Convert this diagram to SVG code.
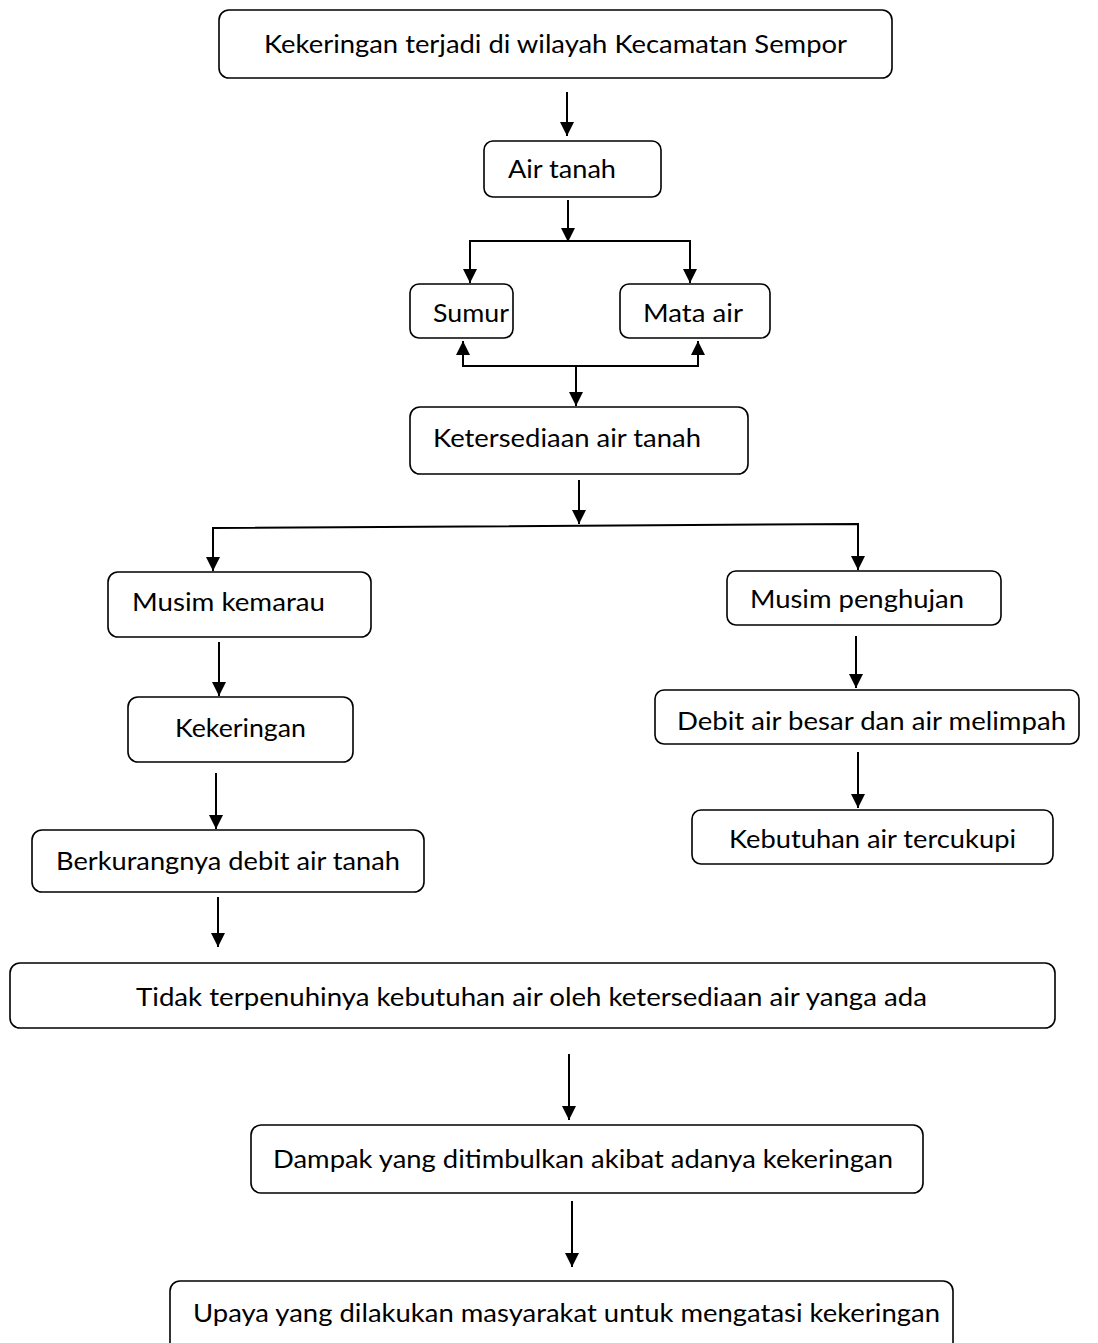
<svg xmlns="http://www.w3.org/2000/svg" width="1098" height="1343" viewBox="0 0 1098 1343">
<defs>
<marker id="ah" viewBox="0 0 14 14" refX="14" refY="7" markerWidth="14" markerHeight="14" markerUnits="userSpaceOnUse" orient="auto">
<path d="M0,0 L14,7 L0,14 Z" fill="#000"/>
</marker>
<style>
.box{fill:#fff;stroke:#000;stroke-width:1.6}
.t{font-family:Lato,"Open Sans","Liberation Sans",sans-serif;font-size:25px;fill:#000}
.c{fill:none;stroke:#000;stroke-width:2}
.a{fill:none;stroke:#000;stroke-width:2;marker-end:url(#ah)}
</style>
</defs>
<rect width="1098" height="1343" fill="#fff"/>
<g id="connectors">
<line class="a" x1="567" y1="92" x2="567" y2="136"/>
<line class="a" x1="568" y1="200" x2="568" y2="242"/>
<polyline class="c" points="470,270 470,241 690,241 690,270"/>
<line class="a" x1="470" y1="260" x2="470" y2="283"/>
<line class="a" x1="690" y1="260" x2="690" y2="283"/>
<polyline class="c" points="463,352 463,366 698,366 698,352"/>
<line class="a" x1="463" y1="360" x2="463" y2="341"/>
<line class="a" x1="698" y1="360" x2="698" y2="341"/>
<line class="a" x1="576" y1="366" x2="576" y2="406"/>
<line class="a" x1="579" y1="480" x2="579" y2="524"/>
<polyline class="c" points="213,558 213,528 858,524 858,556"/>
<line class="a" x1="213" y1="540" x2="213" y2="571"/>
<line class="a" x1="858" y1="540" x2="858" y2="570"/>
<line class="a" x1="219" y1="642" x2="219" y2="696"/>
<line class="a" x1="856" y1="636" x2="856" y2="688"/>
<line class="a" x1="858" y1="752" x2="858" y2="808"/>
<line class="a" x1="216" y1="773" x2="216" y2="829"/>
<line class="a" x1="218" y1="897" x2="218" y2="947"/>
<line class="a" x1="569" y1="1054" x2="569" y2="1120"/>
<line class="a" x1="572" y1="1201" x2="572" y2="1267"/>
</g>
<g id="n1"><rect class="box" x="219" y="10" width="673" height="68" rx="10"/><text class="t" x="264" y="53" textLength="583" lengthAdjust="spacingAndGlyphs">Kekeringan terjadi di wilayah Kecamatan Sempor</text></g>
<g id="n2"><rect class="box" x="484" y="141" width="177" height="56" rx="9"/><text class="t" x="508" y="178" textLength="108" lengthAdjust="spacingAndGlyphs">Air tanah</text></g>
<g id="n3"><rect class="box" x="410" y="284" width="103" height="54" rx="9"/><text class="t" x="433" y="322" textLength="76" lengthAdjust="spacingAndGlyphs">Sumur</text></g>
<g id="n4"><rect class="box" x="620" y="284" width="150" height="54" rx="9"/><text class="t" x="643" y="322" textLength="100" lengthAdjust="spacingAndGlyphs">Mata air</text></g>
<g id="n5"><rect class="box" x="410" y="407" width="338" height="67" rx="10"/><text class="t" x="433" y="447" textLength="268" lengthAdjust="spacingAndGlyphs">Ketersediaan air tanah</text></g>
<g id="n6"><rect class="box" x="108" y="572" width="263" height="65" rx="10"/><text class="t" x="132" y="611" textLength="193" lengthAdjust="spacingAndGlyphs">Musim kemarau</text></g>
<g id="n7"><rect class="box" x="727" y="571" width="274" height="54" rx="9"/><text class="t" x="750" y="608" textLength="214" lengthAdjust="spacingAndGlyphs">Musim penghujan</text></g>
<g id="n8"><rect class="box" x="128" y="697" width="225" height="65" rx="10"/><text class="t" x="175" y="737" textLength="131" lengthAdjust="spacingAndGlyphs">Kekeringan</text></g>
<g id="n9"><rect class="box" x="655" y="690" width="424" height="54" rx="9"/><text class="t" x="677" y="730" textLength="389" lengthAdjust="spacingAndGlyphs">Debit air besar dan air melimpah</text></g>
<g id="n10"><rect class="box" x="692" y="810" width="361" height="54" rx="9"/><text class="t" x="729" y="848" textLength="287" lengthAdjust="spacingAndGlyphs">Kebutuhan air tercukupi</text></g>
<g id="n11"><rect class="box" x="32" y="830" width="392" height="62" rx="10"/><text class="t" x="56" y="870" textLength="344" lengthAdjust="spacingAndGlyphs">Berkurangnya debit air tanah</text></g>
<g id="n12"><rect class="box" x="10" y="963" width="1045" height="65" rx="10"/><text class="t" x="136" y="1006" textLength="791" lengthAdjust="spacingAndGlyphs">Tidak terpenuhinya kebutuhan air oleh ketersediaan air yanga ada</text></g>
<g id="n13"><rect class="box" x="251" y="1125" width="672" height="68" rx="10"/><text class="t" x="273" y="1168" textLength="620" lengthAdjust="spacingAndGlyphs">Dampak yang ditimbulkan akibat adanya kekeringan</text></g>
<g id="n14"><rect class="box" x="170" y="1281" width="783" height="75" rx="10"/><text class="t" x="193" y="1322" textLength="747" lengthAdjust="spacingAndGlyphs">Upaya yang dilakukan masyarakat untuk mengatasi kekeringan</text></g>
</svg>
